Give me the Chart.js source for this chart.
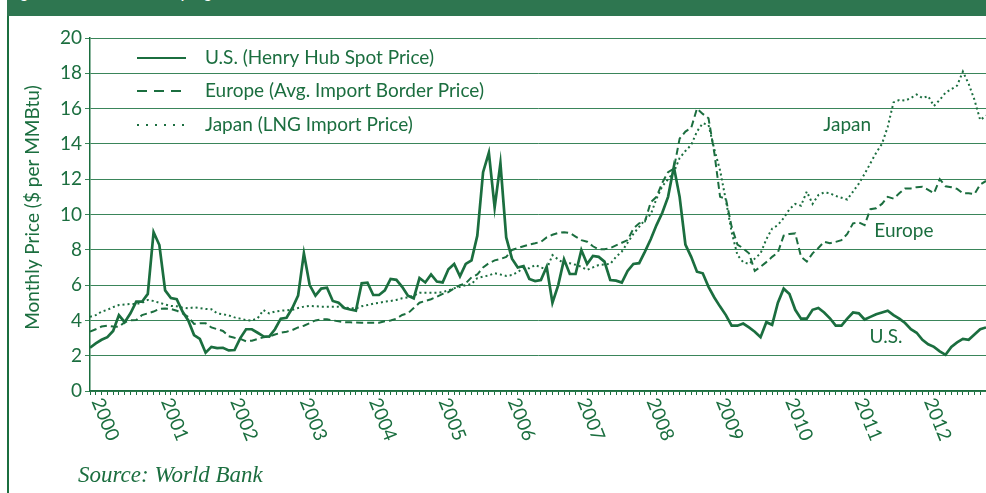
<!DOCTYPE html>
<html>
<head>
<meta charset="utf-8">
<script src="https://cdn.jsdelivr.net/npm/chart.js@4.4.0/dist/chart.umd.min.js"></script>
<style>
  html, body { margin: 0; padding: 0; background: #fff; overflow: hidden; }
  #page { position: relative; width: 986px; height: 493px; }
  #band { position: absolute; left: 7px; top: 0; width: 979px; height: 16px; background: #2e7650; overflow: hidden; }
  #band span { position: absolute; left: 3px; top: -12px; font: bold 13px/13px Lato; color: #fff; white-space: nowrap; }
  #rule { position: absolute; left: 7px; top: 16px; width: 2px; height: 477px; background: #1b6e3f; }
  #source { position: absolute; left: 78px; top: 462px; font: italic 23px "Liberation Serif"; color: #1b6e3f; }
  canvas { position: absolute; left: 0; top: 0; }
</style>
</head>
<body>
<div id="page">
  <div id="band"><span>Figure 1: Natural Gas Prices by Region</span></div>
  <div id="rule"></div>
  <canvas id="gasChart" width="986" height="493"></canvas>
  <div id="source">Source: World Bank</div>
</div>
<script>
// monthly prices, Jan 2000 - Dec 2012 ($ per MMBtu)
var yearLabels = ["2000", "2001", "2002", "2003", "2004", "2005", "2006", "2007", "2008", "2009", "2010", "2011", "2012"];

var usPrice = [
    2.45, 2.7, 2.9, 3.05, 3.4, 4.3, 3.9, 4.4, 5.06, 5.06, 5.5, 9.0,
    8.27, 5.7, 5.27, 5.2, 4.5, 4.0, 3.17, 2.95, 2.17, 2.5, 2.43, 2.45,
    2.3, 2.32, 3.0, 3.5, 3.5, 3.3, 3.1, 3.08, 3.5, 4.1, 4.15, 4.7,
    5.4, 7.8, 6.0, 5.4, 5.8, 5.85, 5.1, 5.0, 4.7, 4.62, 4.55, 6.1,
    6.14, 5.44, 5.44, 5.7, 6.35, 6.3, 5.9, 5.4, 5.25, 6.4, 6.15, 6.6,
    6.2, 6.15, 6.9, 7.2, 6.5, 7.2, 7.4, 8.8, 12.4, 13.5, 10.4, 12.9,
    8.7, 7.5, 7.0, 7.08, 6.35, 6.23, 6.29, 7.04, 5.0, 6.0, 7.46, 6.63,
    6.63, 7.99, 7.2, 7.65, 7.6, 7.33, 6.29, 6.25, 6.14, 6.8, 7.2, 7.24,
    7.9, 8.6, 9.4, 10.1, 11.0, 12.7, 11.0, 8.3, 7.6, 6.76, 6.67, 5.9,
    5.3, 4.78, 4.3, 3.7, 3.7, 3.82, 3.6, 3.36, 3.05, 3.9, 3.75, 5.0,
    5.8, 5.5, 4.6, 4.1, 4.1, 4.6, 4.7, 4.45, 4.12, 3.7, 3.7, 4.1,
    4.45, 4.4, 4.05, 4.2, 4.35, 4.45, 4.55, 4.3, 4.1, 3.85, 3.5, 3.3,
    2.9, 2.65, 2.5, 2.25, 2.05, 2.5, 2.75, 2.95, 2.9, 3.2, 3.5, 3.6
];

var europePrice = [
    3.36, 3.5, 3.65, 3.7, 3.65, 3.64, 3.9, 4.0, 4.02, 4.3, 4.4, 4.5,
    4.65, 4.68, 4.65, 4.55, 4.4, 4.2, 3.8, 3.84, 3.84, 3.6, 3.5, 3.4,
    3.1, 3.02, 2.95, 2.82, 2.85, 2.95, 3.04, 3.08, 3.2, 3.3, 3.36, 3.45,
    3.6, 3.7, 3.84, 4.0, 4.06, 4.06, 4.0, 3.95, 3.9, 3.89, 3.88, 3.87,
    3.87, 3.87, 3.87, 3.95, 4.0, 4.1, 4.31, 4.4, 4.7, 5.0, 5.1, 5.2,
    5.34, 5.5, 5.6, 5.82, 6.0, 6.1, 6.44, 6.6, 7.0, 7.24, 7.4, 7.48,
    7.6, 7.99, 8.1, 8.2, 8.3, 8.37, 8.45, 8.7, 8.85, 8.95, 9.0, 8.95,
    8.75, 8.55, 8.46, 8.2, 8.03, 8.03, 8.1, 8.25, 8.4, 8.55, 9.2, 9.5,
    9.6, 10.7, 11.0, 11.8, 12.4, 12.6, 14.3, 14.7, 14.9, 16.0, 15.7, 15.45,
    13.5, 11.0, 10.9, 9.3, 8.3, 8.08, 7.8, 6.8, 7.04, 7.3, 7.6, 7.85,
    8.8, 8.9, 8.93, 7.6, 7.33, 7.8, 8.1, 8.46, 8.37, 8.45, 8.55, 8.9,
    9.5, 9.55, 9.4, 10.3, 10.35, 10.6, 11.0, 10.9, 11.2, 11.48, 11.48, 11.55,
    11.57, 11.4, 11.2, 12.0, 11.6, 11.55, 11.45, 11.2, 11.2, 11.15, 11.7, 11.9
];

var japanPrice = [
    4.2, 4.3, 4.5, 4.6, 4.75, 4.87, 4.9, 4.93, 4.93, 5.0, 5.16, 5.1,
    5.0, 4.9, 4.82, 4.8, 4.72, 4.68, 4.74, 4.7, 4.65, 4.63, 4.4, 4.35,
    4.28, 4.17, 4.1, 4.02, 3.99, 4.12, 4.59, 4.4, 4.5, 4.55, 4.57, 4.6,
    4.7, 4.78, 4.82, 4.8, 4.78, 4.78, 4.78, 4.78, 4.72, 4.7, 4.68, 4.8,
    4.87, 4.95, 5.0, 5.06, 5.1, 5.16, 5.25, 5.3, 5.4, 5.57, 5.57, 5.57,
    5.57, 5.6, 5.7, 5.82, 5.9, 6.0, 6.06, 6.4, 6.48, 6.55, 6.67, 6.6,
    6.52, 6.57, 6.75, 6.95, 6.95, 7.14, 7.0, 6.9, 7.7, 7.45, 7.24, 7.24,
    7.15, 7.04, 6.86, 7.0, 7.14, 7.17, 7.2, 7.6, 7.9, 8.4, 8.9, 9.3,
    9.7, 10.0, 10.9, 11.6, 12.0, 12.4, 13.2, 13.6, 13.94, 14.7, 15.17, 15.07,
    13.7, 12.5, 10.8, 9.0, 7.7, 7.3, 7.2, 7.5, 7.8, 8.6, 9.2, 9.4,
    9.8, 10.3, 10.6, 10.5, 11.3, 10.6, 11.1, 11.25, 11.2, 11.05, 10.95, 10.85,
    11.3, 11.75, 12.3, 12.9, 13.5, 14.0, 14.97, 16.35, 16.49, 16.45, 16.6, 16.8,
    16.6, 16.7, 16.15, 16.5, 16.9, 17.1, 17.3, 18.1, 17.4, 16.5, 15.35, 15.6
];

var seriesNames = ["U.S. (Henry Hub Spot Price)", "Europe (Avg. Import Border Price)", "Japan (LNG Import Price)"];
var yTitle = "Monthly Price ($ per MMBtu)";

var GREEN = "#1b6e3f";
var GRID = "#3a855a";

var months = [];
yearLabels.forEach(function (yr) {
    for (var m = 1; m <= 12; m++) months.push(yr + "-" + (m < 10 ? "0" + m : m));
});

// legend, axis title, year labels and line tags drawn on the canvas
var overlay = {
    id: "overlay",
    afterDatasetsDraw: function (chart) {
        var ctx = chart.ctx, area = chart.chartArea;
        var x = chart.scales.x, y = chart.scales.y;
        ctx.save();
        ctx.fillStyle = GREEN;
        ctx.font = "19px Lato";

        // year labels, turned down to the right
        ctx.textAlign = "left";
        ctx.textBaseline = "middle";
        yearLabels.forEach(function (yr, k) {
            ctx.save();
            ctx.translate(x.getPixelForValue(k * 12) + 7, area.bottom + 8);
            ctx.rotate(68 * Math.PI / 180);
            ctx.fillText(yr, 0, 0);
            ctx.restore();
        });

        // y axis title
        ctx.save();
        ctx.translate(33, (area.top + area.bottom) / 2 - 7);
        ctx.rotate(-Math.PI / 2);
        ctx.textAlign = "center";
        ctx.fillText(yTitle, 0, 0);
        ctx.restore();

        // legend
        var legendDash = [[], [10, 7], [2, 7]];
        var rows = [20, 53, 87];
        chart.data.datasets.forEach(function (ds, i) {
            var ry = area.top + rows[i];
            ctx.save();
            ctx.strokeStyle = GREEN;
            ctx.lineWidth = 2;
            ctx.setLineDash(legendDash[i]);
            ctx.beginPath();
            ctx.moveTo(area.left + 47, ry);
            ctx.lineTo(area.left + 96, ry);
            ctx.stroke();
            ctx.restore();
            ctx.textAlign = "left";
            ctx.fillText(seriesNames[i], area.left + 115, ry);
        });

        // tags next to the lines
        ctx.textAlign = "center";
        [["Japan", 131, 15.1], ["Europe", 140.8, 9.07], ["U.S.", 137.7, 3.06]].forEach(function (t) {
            var px = x.getPixelForValue(Math.floor(t[1])) + (t[1] % 1) * (x.getPixelForValue(1) - x.getPixelForValue(0));
            ctx.fillText(t[0], px, y.getPixelForValue(t[2]));
        });
        ctx.restore();
    }
};

var ctx = document.getElementById("gasChart").getContext("2d");

var gasChart = new Chart(ctx, {
    type: "line",
    data: {
        labels: months,
        datasets: [
            { label: seriesNames[0], data: usPrice, borderColor: GREEN, borderWidth: 2.7, fill: false },
            { label: seriesNames[1], data: europePrice, borderColor: GREEN, borderWidth: 2, borderDash: [7, 4], fill: false },
            { label: seriesNames[2], data: japanPrice, borderColor: GREEN, borderWidth: 2, borderDash: [2, 3], fill: false }
        ]
    },
    options: {
        responsive: false,
        animation: false,
        devicePixelRatio: 1,
        layout: { padding: { top: 38, bottom: 98, left: 0, right: 0 } },
        plugins: { legend: { display: false }, tooltip: { enabled: false } },
        elements: { point: { radius: 0 }, line: { tension: 0 } },
        scales: {
            x: {
                grid: { drawOnChartArea: false, tickLength: 4, color: GREEN, lineWidth: 1 },
                border: { color: GREEN, width: 1.5 },
                ticks: { display: false }
            },
            y: {
                min: 0,
                max: 20,
                ticks: { stepSize: 2, color: GREEN, padding: 3, font: { family: "Lato", size: 19 } },
                grid: { color: GRID, tickLength: 5, lineWidth: 1 },
                border: { color: GREEN, width: 1.5 },
                afterFit: function (scale) { scale.width = 90; }
            }
        }
    },
    plugins: [overlay]
});
</script>
</body>
</html>
